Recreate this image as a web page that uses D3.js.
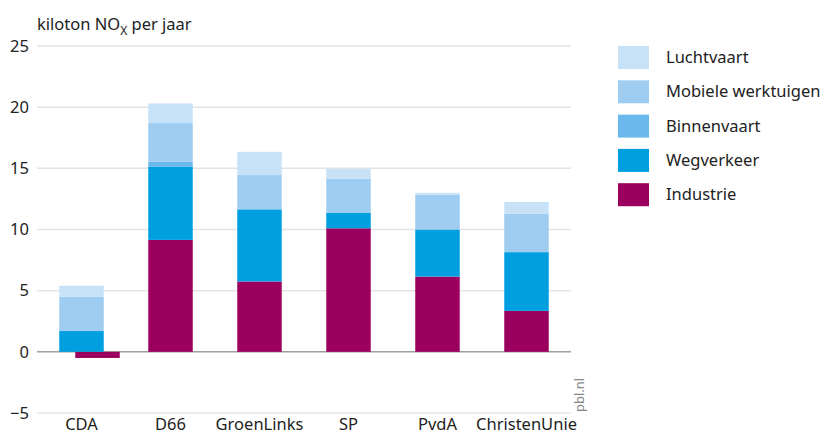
<!DOCTYPE html>
<html>
<head>
<meta charset="utf-8">
<script src="https://cdn.jsdelivr.net/npm/d3@7"></script>
<style>
  body { margin: 0; background: #fff; }
  text { font-family: "Noto Sans", "Open Sans", sans-serif; fill: #222; }
</style>
</head>
<body>
<div class="chart"></div>
<script>
// data
let parties = ['CDA', 'D66', 'GroenLinks', 'SP', 'PvdA', 'ChristenUnie'];
let sources = ['Industrie', 'Wegverkeer', 'Binnenvaart', 'Mobiele werktuigen', 'Luchtvaart'];
let industrie   = [-0.5, 9.15, 5.75, 10.1, 6.15, 3.35];
let wegverkeer  = [1.7, 6.0, 5.9, 1.25, 3.85, 4.8];
let binnenvaart = [0, 0.4, 0, 0, 0, 0];
let mobiele     = [2.8, 3.15, 2.8, 2.8, 2.85, 3.15];
let luchtvaart  = [0.9, 1.6, 1.9, 0.8, 0.15, 0.95];
let yTicks = [-5, 0, 5, 10, 15, 20, 25];
let colors = ['#9c005e', '#009fe0', '#6ab8ec', '#9fcdf2', '#c7e2f7'];

let series = [industrie, wegverkeer, binnenvaart, mobiele, luchtvaart];

let W = 824, H = 435;
let margin = {top: 46, left: 37, right: 253, bottom: 22};
let width = W - margin.left - margin.right;
let height = H - margin.top - margin.bottom;

let svg = d3.select('.chart').append('svg')
  .attr('width', W).attr('height', H);

let g = svg.append('g')
  .attr('transform', 'translate(' + margin.left + ',' + margin.top + ')');

let xScale = d3.scaleBand().domain(parties).range([0, width]).paddingInner(0.5).paddingOuter(0.25);
let yScale = d3.scaleLinear().domain([-5, 25]).range([height, 0]);
let color = d3.scaleOrdinal().domain(sources).range(colors);

// gridlines
g.selectAll('.grid')
  .data(yTicks)
  .enter().append('line')
  .attr('x1', 0).attr('x2', width)
  .attr('y1', d => yScale(d)).attr('y2', d => yScale(d))
  .attr('stroke', d => d === 0 ? '#a0a0a0' : '#e3e3e3')
  .attr('stroke-width', 1.5);

// y axis labels
let yAxis = d3.axisLeft(yScale).tickValues(yTicks).tickSize(0).tickPadding(8);
g.append('g').call(yAxis)
  .call(a => a.select('.domain').remove())
  .selectAll('text')
  .style('font-size', '16.5px')
  .style('fill', '#222');

// stacked bars (positive up from 0, negative down from 0)
parties.forEach(function(p, i) {
  let pos = 0, neg = 0;
  series.forEach(function(vals, s) {
    let v = vals[i];
    if (v === 0) return;
    let y0, y1, x = xScale(p);
    if (v > 0) { y0 = pos; y1 = pos + v; pos = y1; }
    else { y0 = neg + v; y1 = neg; neg = y0; x = x + xScale.bandwidth() * 0.36; }
    g.append('rect')
      .attr('class', 'bar')
      .attr('x', x)
      .attr('width', xScale.bandwidth())
      .attr('y', yScale(y1))
      .attr('height', yScale(y0) - yScale(y1))
      .attr('fill', color(sources[s]));
  });
});

// x axis labels
let xAxis = d3.axisBottom(xScale).tickSize(0).tickPadding(0);
g.append('g')
  .attr('transform', 'translate(0,' + (height + 5) + ')')
  .call(xAxis)
  .call(a => a.select('.domain').remove())
  .selectAll('text')
  .attr('dy', '0.71em')
  .style('font-size', '16.5px')
  .style('fill', '#222');

// title
let title = svg.append('text')
  .attr('x', margin.left).attr('y', 30)
  .style('font-size', '16.5px');
title.append('tspan').text('kiloton NO');
title.append('tspan').attr('dy', 5).style('font-size', '12px').text('X');
title.append('tspan').attr('dy', -5).text(' per jaar');

// source
svg.append('text')
  .attr('transform', 'translate(584,412) rotate(-90)')
  .style('font-size', '13px')
  .style('fill', '#888')
  .text('pbl.nl');

// legend
let legend = svg.append('g').attr('transform', 'translate(618,46)');
let legendItems = sources.slice().reverse();
legendItems.forEach(function(s, i) {
  let row = legend.append('g').attr('transform', 'translate(0,' + (i * 34.3) + ')');
  row.append('rect').attr('width', 31).attr('height', 23).attr('fill', color(s));
  row.append('text').attr('x', 48).attr('y', 17).style('font-size', '16.5px').text(s);
});
</script>
</body>
</html>
